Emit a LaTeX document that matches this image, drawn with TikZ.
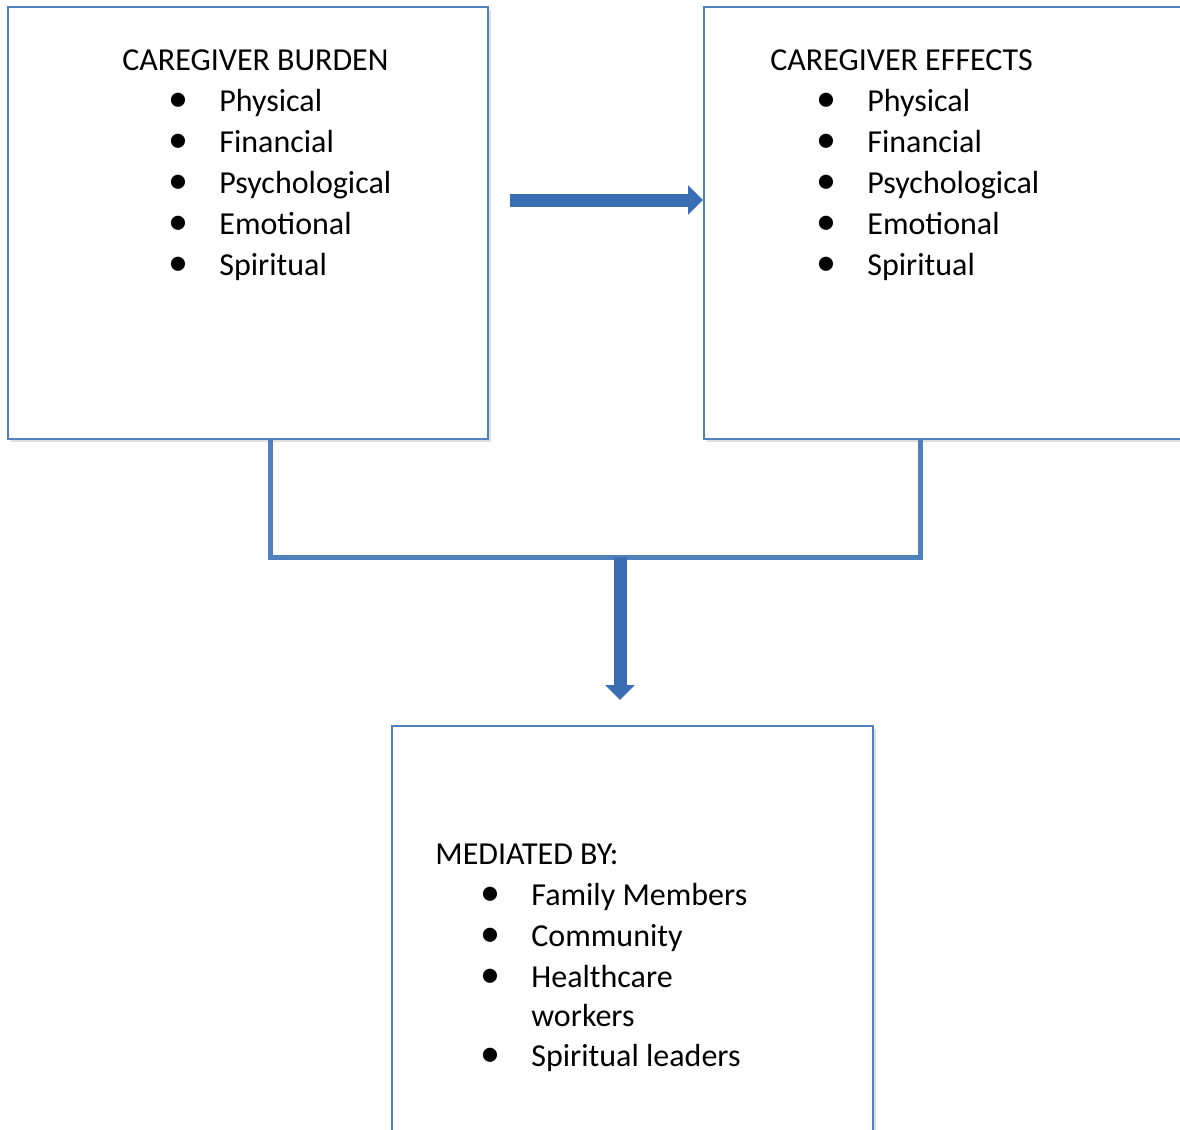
\documentclass[tikz,border=0pt]{standalone}
\usepackage{fontspec}
\setmainfont{Carlito}
\usetikzlibrary{positioning, arrows.meta, shadows}

\definecolor{boxblue}{RGB}{79,129,189}
\definecolor{arrowblue}{RGB}{58,110,180}

\tikzset{
  box/.style={draw=boxblue, line width=1.2pt, fill=white, anchor=north west,
    inner sep=0pt, drop shadow={shadow xshift=1.2pt, shadow yshift=-1.2pt, opacity=0.25}},
  head/.style={anchor=base west, inner sep=0pt, font=\fontsize{16}{20}\selectfont},
  item/.style={head},
  bul/.style={anchor=base, inner sep=0pt, font=\fontsize{20}{20}\selectfont},
  link/.style={draw=boxblue, line width=2.5pt},
  fatarrow/.style={draw=arrowblue, line width=6.5pt,
    -{Triangle[width=14.5pt, length=7.5pt]}}
}

\begin{document}
\begin{tikzpicture}[x=0.5pt, y=-0.5pt]
\useasboundingbox (0,0) rectangle (1180,1130);

% the three boxes
\node[box, minimum width=240pt, minimum height=216pt] (burden) at (7,6) {};
\node[box, minimum width=245pt, minimum height=216pt] (effects) at (703,6) {};
\node[box, minimum width=240.5pt, minimum height=215pt] (mediated) at (391,725) {};

% connectors
\coordinate (jl) at (270,557);
\coordinate (jr) at (920,557);
\coordinate (jm) at (620,557);
\coordinate (ha) at (510,200);
\draw[link, line join=miter] (burden.south -| jl) -- (jl) -- (jr) -- (effects.south -| jr);
\draw[fatarrow] (jm) -- (jm |- mediated.north) [shorten >=12.5pt];
\draw[fatarrow] (ha) -- (ha -| effects.west);

% texts
\node[head] (hb) at (122,70) {CAREGIVER BURDEN};
\node[head] (he) at (770,70) {CAREGIVER EFFECTS};
\foreach \t [count=\i] in {Physical, Financial, Psychological, Emotional, Spiritual} {
  \node[bul] (bb\i) at (178,70+41*\i) {•};
  \node[item] (ib\i) at (219,70+41*\i) {\t};
  \node[bul] (be\i) at (826,70+41*\i) {•};
  \node[item] (ie\i) at (867,70+41*\i) {\t};
}

\node[head] (hm) at (435,864) {MEDIATED BY:};
\foreach \t/\y [count=\i] in {Family Members/905, Community/946, Healthcare/987, Spiritual leaders/1066} {
  \node[bul] (bm\i) at (490,\y) {•};
  \node[item] (im\i) at (531,\y) {\t};
}
\node[item] (im5) at (531,1026) {workers};

\end{tikzpicture}
\end{document}
